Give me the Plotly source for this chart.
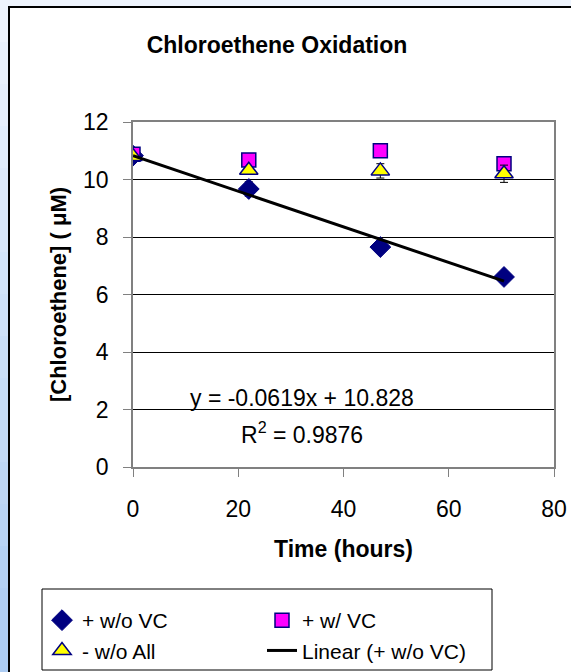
import plotly.graph_objects as go
import numpy as np

time_h = [0, 22, 47, 70.5]
wo_vc = [10.83, 9.67, 7.65, 6.61]
wo_vc_err = [0.05, 0.25, 0.18, 0.05]
w_vc = [10.88, 10.68, 11.0, 10.55]
w_vc_err = [0.05, 0.05, 0.05, 0.05]
wo_all = [10.8, 10.32, 10.3, 10.2]
wo_all_err = [0.05, 0.1, 0.25, 0.3]
slope, intercept, r2 = -0.0619, 10.828, 0.9876

FONT = "Liberation Sans, Arial, sans-serif"
NAVY = "#000080"

fig = go.Figure()
fig.add_trace(go.Scatter(x=time_h, y=wo_vc, mode="markers", name="+ w/o VC", legend="legend",
                         marker=dict(symbol="diamond", size=16, color=NAVY, line=dict(color=NAVY, width=1)),
                         error_y=dict(type="data", array=wo_vc_err, color="black", thickness=1, width=4)))
fig.add_trace(go.Scatter(x=time_h, y=w_vc, mode="markers", name="+ w/ VC", legend="legend2",
                         marker=dict(symbol="square", size=14, color="#FF00FF", line=dict(color=NAVY, width=1.5)),
                         error_y=dict(type="data", array=w_vc_err, color="black", thickness=1, width=4)))
fig.add_trace(go.Scatter(x=time_h, y=wo_all, mode="markers", name="- w/o All", legend="legend",
                         marker=dict(symbol="triangle-up", size=16, color="#FFFF00", line=dict(color=NAVY, width=1.5)),
                         error_y=dict(type="data", array=wo_all_err, color="black", thickness=1, width=4)))
xt = np.array([time_h[0], time_h[-1]])
fig.add_trace(go.Scatter(x=xt, y=slope * xt + intercept, mode="lines", name="Linear (+ w/o VC)",
                         legend="legend2", line=dict(color="black", width=3)))

fig.add_annotation(x=(301.7 - 133) / 421, y=(467 - 398) / 345, xref="paper", yref="paper", showarrow=False,
                   xanchor="center", yanchor="middle",
                   text=f"y = {slope}x + {intercept}", font=dict(size=23, color="black"))
fig.add_annotation(x=(302 - 133) / 421, y=(467 - 433) / 345, xref="paper", yref="paper", showarrow=False,
                   xanchor="center", yanchor="middle",
                   text=f"R<sup>2</sup> = {r2}", font=dict(size=23, color="black"))

# light-blue page background with a soft vertical gradient (bands in pixel rows -> paper coords)
n_bands = 16
c_top = np.array([238, 244, 253])
c_bot = np.array([172, 204, 243])
for i in range(n_bands):
    t = i / (n_bands - 1)
    c = (c_top * (1 - t) + c_bot * t).astype(int)
    py_top = 672 * i / n_bands
    py_bot = 672 * (i + 1) / n_bands + 1
    fig.add_shape(type="rect", xref="paper", yref="paper", x0=-0.4, x1=1.2,
                  y0=(467 - py_bot) / 345, y1=(467 - py_top) / 345,
                  fillcolor=f"rgb({c[0]},{c[1]},{c[2]})",
                  line=dict(width=0), layer="below")

# white chart area with border
fig.add_shape(type="rect", xref="paper", yref="paper", x0=(9 - 133) / 421, x1=1.2,
              y0=-0.7, y1=(467 - 7) / 345, fillcolor="white", line=dict(color="black", width=2),
              layer="below")
# legend frame
fig.add_shape(type="rect", xref="paper", yref="paper", x0=(42 - 133) / 421, x1=(492 - 133) / 421,
              y0=(467 - 670) / 345, y1=(467 - 589) / 345, fillcolor="white",
              line=dict(color="black", width=1), layer="below")

leg_common = dict(orientation="v", xref="paper", yref="container", y=1 - 600 / 672,
                  xanchor="left", yanchor="top", borderwidth=0, bgcolor="rgba(0,0,0,0)",
                  font=dict(size=21), tracegroupgap=0)

fig.update_layout(
    width=571, height=672,
    margin=dict(l=133, r=17, t=122, b=205),
    paper_bgcolor="#d2e3f9",
    plot_bgcolor="#FFFFC0",
    font=dict(family=FONT, size=23, color="black"),
    title=dict(text="<b>Chloroethene Oxidation</b>", x=277 / 571, xanchor="center",
               y=1 - 45 / 672, yanchor="middle", font=dict(size=23), automargin=False),
    xaxis=dict(range=[0, 80], tickvals=[0, 20, 40, 60, 80], showgrid=False, zeroline=False,
               showline=True, linecolor="#808080", linewidth=1.5, mirror=True, automargin=False,
               ticks="outside", ticklen=8, tickcolor="#808080", ticklabelstandoff=13,
               title=dict(text="<b>Time (hours)</b>", font=dict(size=23), standoff=20)),
    yaxis=dict(range=[0, 12], tickvals=[0, 2, 4, 6, 8, 10, 12], showgrid=True, gridcolor="black",
               gridwidth=1, zeroline=False, showline=True, linecolor="#808080", linewidth=1.5, mirror=True,
               automargin=False,
               ticks="outside", ticklen=8, tickcolor="#808080", ticklabelstandoff=10,
               title=dict(text="<b>[Chloroethene] ( μM)</b>", font=dict(size=22), standoff=10)),
    legend=dict(x=(42 - 133) / 421, **leg_common),
    legend2=dict(x=(262 - 133) / 421, **leg_common),
    showlegend=True,
)

fig.write_html("out.html")
